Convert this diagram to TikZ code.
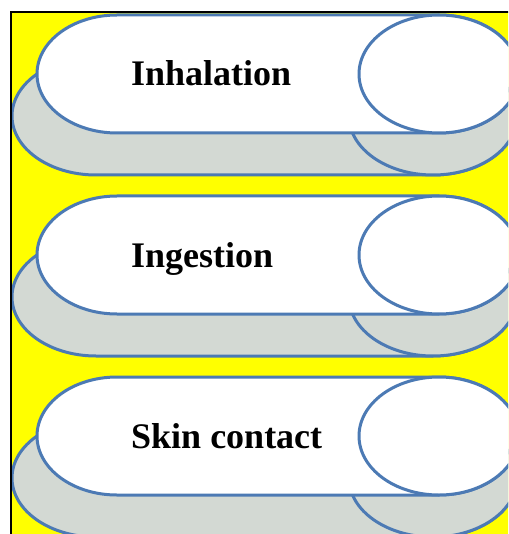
\documentclass[tikz,border=0pt]{standalone}
\usepackage{fontspec}
\setmainfont{Liberation Serif}
\definecolor{bgyellow}{RGB}{255,255,0}
\definecolor{edgeblue}{RGB}{76,122,180}
\definecolor{shadegray}{RGB}{211,217,211}
\tikzset{
  canshade/.style={draw=edgeblue, line width=3pt, fill=shadegray},
  canfront/.style={draw=edgeblue, line width=3pt, fill=white},
  canlabel/.style={anchor=base west, inner sep=0pt, font=\fontsize{36}{40}\selectfont\bfseries}
}
\begin{document}
\begin{tikzpicture}[x=1pt,y=-1pt]
\useasboundingbox (0,0) rectangle (508,534);
\clip (0,0) rectangle (508,534);
\fill[white] (0,0) rectangle (508,534);
\fill[bgyellow] (11,12) rectangle (510,536);
\foreach \c/\txt/\nm in {74/Inhalation/inh, 255/Ingestion/ing, 436/Skin contact/skin} {
  % shadow cylinder
  \draw[canshade] (96,\c-17) -- (433,\c-17)
     arc[start angle=90, end angle=-90, x radius=84pt, y radius=59pt]
     -- (96,\c+101)
     arc[start angle=-90, end angle=-270, x radius=84pt, y radius=59pt] -- cycle;
  \draw[canshade] (433,\c+42) ellipse [x radius=84pt, y radius=59pt];
  % front cylinder
  \draw[canfront] (117,\c-59) -- (439,\c-59)
     arc[start angle=90, end angle=-90, x radius=80pt, y radius=59pt]
     -- (117,\c+59)
     arc[start angle=-90, end angle=-270, x radius=80pt, y radius=59pt] -- cycle;
  \draw[canfront] (439,\c) ellipse [x radius=80pt, y radius=59pt];
  \node[canlabel] (\nm) at (131,\c+12) {\txt};
}
\draw[black, line width=2pt] (11,536) -- (11,12) -- (510,12);
\end{tikzpicture}
\end{document}
